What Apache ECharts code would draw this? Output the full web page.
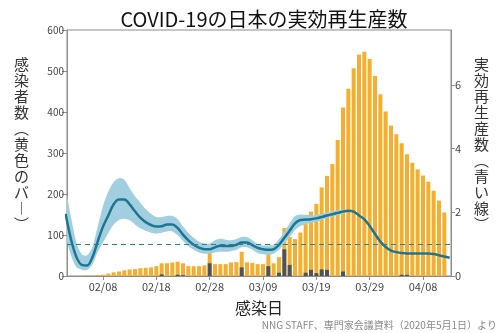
<!DOCTYPE html>
<html>
<head>
<meta charset="utf-8">
<script src="https://cdn.jsdelivr.net/npm/echarts@6/dist/echarts.min.js"></script>
<style>
  html, body { margin: 0; padding: 0; background: #fff; }
  #chart { width: 500px; height: 333px; }
</style>
</head>
<body>
<div id="chart"></div>
<script>
// Infection dates, 2020-02-01 .. 2020-04-13 (index = day number)
const dates = [
  '02/01','02/02','02/03','02/04','02/05','02/06','02/07','02/08','02/09','02/10',
  '02/11','02/12','02/13','02/14','02/15','02/16','02/17','02/18','02/19','02/20',
  '02/21','02/22','02/23','02/24','02/25','02/26','02/27','02/28','02/29','03/01',
  '03/02','03/03','03/04','03/05','03/06','03/07','03/08','03/09','03/10','03/11',
  '03/12','03/13','03/14','03/15','03/16','03/17','03/18','03/19','03/20','03/21',
  '03/22','03/23','03/24','03/25','03/26','03/27','03/28','03/29','03/30','03/31',
  '04/01','04/02','04/03','04/04','04/05','04/06','04/07','04/08','04/09','04/10',
  '04/11','04/12','04/13'
];

// Dates shown on the x axis
const tickDates = ['02/08','02/18','02/28','03/09','03/19','03/29','04/08'];

// New infections per day (yellow bars), 02/01 .. 04/12
const infections = [
  0, 0, 0, 0, 1, 1, 2, 3, 6, 9,
  11, 14, 16, 17, 19, 20, 21, 24, 31, 31,
  33, 35, 31, 24, 24, 24, 26, 60, 29, 29,
  29, 33, 34, 59, 33, 32, 29, 29, 54, 31,
  46, 117, 95, 90, 106, 131, 157, 176, 216, 244,
  273, 332, 411, 457, 507, 540, 547, 529, 488, 443,
  401, 367, 346, 324, 297, 276, 260, 245, 230, 208,
  184, 155
];

// Part of each day's infections shown in dark grey
const darkPart = [
  0, 0, 0, 0, 0, 0, 0, 0, 0, 0,
  0, 0, 0, 0, 0, 0, 0, 0, 4, 0,
  0, 3, 2, 0, 0, 0, 0, 31, 0, 0,
  0, 0, 0, 21, 0, 0, 0, 0, 24, 0,
  8, 65, 27, 0, 0, 8, 15, 7, 16, 15,
  0, 0, 11, 0, 0, 0, 0, 0, 0, 0,
  0, 0, 0, 3, 3, 0, 0, 0, 0, 0,
  0, 0
];

// Effective reproduction number (blue line), 02/01 .. 04/13
const rt = [
  1.95, 1.15, 0.60, 0.35, 0.33, 0.58, 1.08, 1.55, 1.90, 2.25,
  2.40, 2.40, 2.25, 2.03, 1.83, 1.69, 1.60, 1.55, 1.56, 1.62,
  1.62, 1.50, 1.30, 1.12, 0.98, 0.89, 0.84, 0.84, 0.90, 0.95,
  0.94, 0.94, 0.98, 1.05, 1.05, 0.97, 0.88, 0.84, 0.82, 0.84,
  0.98, 1.20, 1.42, 1.65, 1.76, 1.77, 1.78, 1.81, 1.85, 1.90,
  1.94, 1.98, 2.02, 2.05, 2.02, 1.90, 1.78, 1.57, 1.32, 1.08,
  0.91, 0.80, 0.75, 0.72, 0.71, 0.71, 0.71, 0.71, 0.71, 0.69,
  0.65, 0.61, 0.57
];

// Interval of Rt (light blue band), 02/01 .. 03/26
const rtLower = [
  1.30, 0.65, 0.28, 0.20, 0.19, 0.35, 0.75, 1.05, 1.35, 1.62,
  1.76, 1.80, 1.75, 1.62, 1.50, 1.42, 1.36, 1.33, 1.36, 1.40,
  1.40, 1.28, 1.10, 0.94, 0.82, 0.74, 0.70, 0.70, 0.74, 0.76,
  0.76, 0.78, 0.82, 0.90, 0.90, 0.82, 0.72, 0.68, 0.67, 0.70,
  0.82, 1.02, 1.22, 1.44, 1.57, 1.62, 1.66, 1.70, 1.76, 1.82,
  1.86, 1.91, 1.96, 2.02, 2.00
];
const rtUpper = [
  2.65, 1.85, 1.05, 0.68, 0.65, 0.90, 1.55, 2.20, 2.65, 2.95,
  3.07, 3.02, 2.75, 2.50, 2.30, 2.10, 1.95, 1.85, 1.85, 1.88,
  1.88, 1.78, 1.55, 1.36, 1.20, 1.08, 1.02, 1.02, 1.12, 1.17,
  1.14, 1.12, 1.16, 1.22, 1.22, 1.12, 1.00, 0.96, 0.96, 0.98,
  1.15, 1.40, 1.65, 1.88, 1.93, 1.92, 1.90, 1.92, 1.95, 1.99,
  2.03, 2.06, 2.08, 2.08, 2.04
];

// Threshold Rt = 1 (dashed line)
const rtThreshold = 1;

const rightTicks = [0, 2, 4, 6];

const tickDays = tickDates.map(d => dates.indexOf(d));
const pairs = arr => arr.map((v, i) => [i, v]);

const FONT = '"Noto Sans CJK JP", "Noto Sans", sans-serif';
const AXIS_GREY = '#8c8c8c';
const LABEL_GREY = '#444';

// Draws the whole interval band as one smoothed polygon (upper edge forward, lower edge back)
function renderBand(params, api) {
  if (params.dataIndex !== 0) return null;
  const upperPts = rtUpper.map((u, i) => api.coord([i, u]));
  const lowerPts = rtLower.map((l, i) => api.coord([i, l])).reverse();
  const cs = params.coordSys;
  return {
    type: 'polygon',
    shape: { points: upperPts.concat(lowerPts), smooth: 0.3 },
    style: { fill: '#a2cfdf', stroke: null },
    clipPath: { type: 'rect', shape: { x: cs.x, y: cs.y, width: cs.width, height: cs.height } }
  };
}

const chart = echarts.init(document.getElementById('chart'), null, { renderer: 'canvas' });

chart.setOption({
  animation: false,
  backgroundColor: '#fff',
  textStyle: { fontFamily: FONT },
  title: {
    text: 'COVID-19の日本の実効再生産数',
    left: 259, top: 4, textAlign: 'center',
    textStyle: { fontFamily: FONT, fontSize: 20, fontWeight: 'normal', color: '#111' }
  },
  grid: {
    left: 67, right: 49, top: 30, bottom: 57,
    show: true, borderColor: AXIS_GREY, borderWidth: 1
  },
  xAxis: {
    type: 'value',
    min: 0.25, max: 72.25,
    splitLine: { show: false },
    axisLine: { show: true, lineStyle: { color: AXIS_GREY } },
    axisTick: { show: true, length: 4, customValues: tickDays, lineStyle: { color: AXIS_GREY } },
    axisLabel: {
      customValues: tickDays,
      formatter: v => dates[Math.round(v)],
      fontSize: 11, color: LABEL_GREY, margin: 5, fontFamily: FONT
    },
    name: '感染日',
    nameLocation: 'middle',
    nameGap: 24,
    nameTextStyle: { fontSize: 16, color: '#222', fontFamily: FONT }
  },
  yAxis: [
    {
      type: 'value', min: 0, max: 600, interval: 100,
      splitLine: { show: false },
      axisLine: { show: true, lineStyle: { color: AXIS_GREY } },
      axisTick: { show: true, length: 5, lineStyle: { color: AXIS_GREY } },
      axisLabel: { fontSize: 10, color: LABEL_GREY, margin: 3, fontFamily: FONT }
    },
    {
      type: 'value', min: 0, max: 7.72,
      position: 'right',
      splitLine: { show: false },
      axisLine: { show: true, lineStyle: { color: AXIS_GREY } },
      axisTick: { show: true, length: 4, customValues: rightTicks, lineStyle: { color: AXIS_GREY } },
      axisLabel: { customValues: rightTicks, fontSize: 11, color: LABEL_GREY, margin: 4, fontFamily: FONT }
    }
  ],
  series: [
    {
      name: '感染者数',
      type: 'bar',
      data: pairs(infections),
      barWidth: 4,
      barGap: '-100%',
      itemStyle: { color: '#f7ae2f' },
      z: 2
    },
    {
      name: '内訳',
      type: 'bar',
      data: pairs(darkPart),
      barWidth: 4,
      barGap: '-100%',
      itemStyle: { color: '#4f5358' },
      z: 3
    },
    {
      name: '区間',
      type: 'custom',
      xAxisIndex: 0,
      yAxisIndex: 1,
      data: rtUpper.map((u, i) => [i, u, rtLower[i]]),
      encode: { x: 0, y: [1, 2] },
      renderItem: renderBand,
      silent: true,
      z: 4
    },
    {
      name: '実効再生産数',
      type: 'line',
      yAxisIndex: 1,
      data: pairs(rt),
      symbol: 'none',
      smooth: 0.35,
      lineStyle: { color: '#1c7591', width: 2.5 },
      z: 6,
      markLine: {
        silent: true,
        symbol: 'none',
        label: { show: false },
        lineStyle: { color: '#2a7f9a', type: [5, 4], width: 1.2 },
        data: [{ yAxis: rtThreshold }],
        z: 7
      }
    }
  ],
  graphic: [
    {
      type: 'text',
      left: 14, top: 56,
      style: {
        text: '感\n染\n者\n数\n︵\n黄\n色\nの\nバ\n︱\n︶',
        fontFamily: FONT, fontSize: 15, lineHeight: 16,
        fill: '#333', align: 'center'
      }
    },
    {
      type: 'text',
      left: 474, top: 56,
      style: {
        text: '実\n効\n再\n生\n産\n数\n︵\n青\nい\n線\n︶',
        fontFamily: FONT, fontSize: 15, lineHeight: 16,
        fill: '#333', align: 'center'
      }
    },
    {
      type: 'text',
      right: 3, top: 320,
      style: {
        text: 'NNG STAFF、専門家会議資料（2020年5月1日）より',
        fontFamily: FONT, fontSize: 10, fill: '#888'
      }
    }
  ]
});
</script>
</body>
</html>
